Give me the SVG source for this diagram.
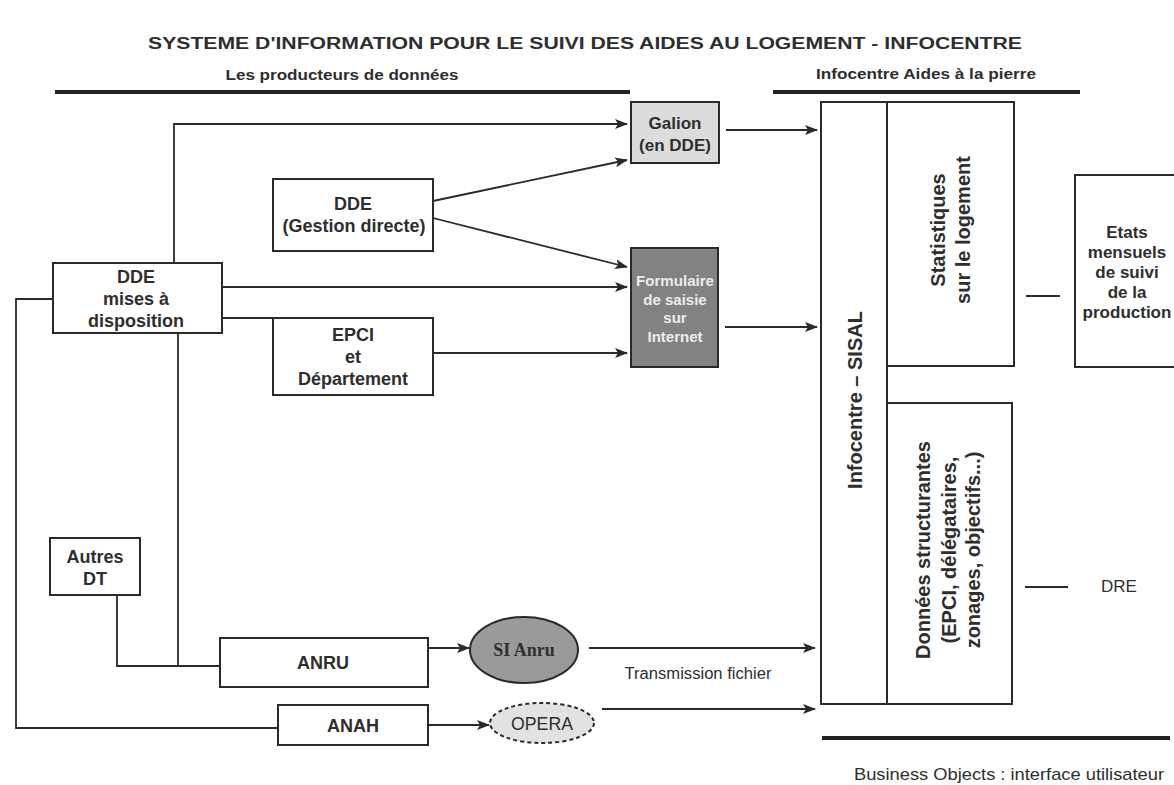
<svg xmlns="http://www.w3.org/2000/svg" width="1174" height="785" viewBox="0 0 1174 785">
<style>
text{font-family:"Liberation Sans",Arial,sans-serif;fill:#2e2e2e}
.b{font-weight:bold}
.t18{font-size:18px}
.t17{font-size:17px}
.r{font-size:20px;font-weight:bold}
.box{fill:#fff;stroke:#2a2a2a;stroke-width:2}
.ln{fill:none;stroke:#2a2a2a;stroke-width:1.8}
.arr{fill:none;stroke:#2a2a2a;stroke-width:1.8;marker-end:url(#ah)}
.hdr{stroke:#222;stroke-width:4}
.fw{fill:#ececec;font-weight:bold;font-size:15px}
</style>
<defs>
<marker id="ah" markerUnits="userSpaceOnUse" markerWidth="13" markerHeight="10" refX="12" refY="5" orient="auto">
<path d="M0,0 L13,5 L0,10 L3,5 z" fill="#2a2a2a"/>
</marker>
</defs>
<rect width="1174" height="785" fill="#fff"/>
<g id="title">
<text x="585" y="49" text-anchor="middle" class="b" font-size="16" textLength="874" lengthAdjust="spacingAndGlyphs">SYSTEME D'INFORMATION POUR LE SUIVI DES AIDES AU LOGEMENT - INFOCENTRE</text>
<text x="342" y="80" text-anchor="middle" class="b" font-size="15.5" textLength="233" lengthAdjust="spacingAndGlyphs">Les producteurs de données</text>
<text x="926" y="79" text-anchor="middle" class="b" font-size="15.5" textLength="220" lengthAdjust="spacingAndGlyphs">Infocentre Aides à la pierre</text>
<line class="hdr" x1="55" y1="92" x2="630" y2="92"/>
<line class="hdr" x1="773" y1="92" x2="1080" y2="92"/>
<line class="hdr" x1="822" y1="738" x2="1170" y2="738"/>
<text x="1009" y="780" text-anchor="middle" font-size="17" textLength="310" lengthAdjust="spacingAndGlyphs">Business Objects : interface utilisateur</text>
</g>
<g id="connectors">
<polyline class="arr" points="174,263 174,124 627,124"/>
<line class="arr" x1="433" y1="201" x2="627" y2="160"/>
<line class="arr" x1="433" y1="218" x2="627" y2="267"/>
<line class="arr" x1="222" y1="287" x2="627" y2="287"/>
<line class="ln" x1="222" y1="318" x2="273" y2="318"/>
<line class="arr" x1="433" y1="353" x2="627" y2="353"/>
<line class="arr" x1="726" y1="130" x2="817" y2="130"/>
<line class="arr" x1="725" y1="327" x2="817" y2="327"/>
<polyline class="ln" points="53,299 16,299 16,728 278,728"/>
<line class="ln" x1="178" y1="333" x2="178" y2="666"/>
<polyline class="ln" points="117,595 117,666 220,666"/>
<line class="arr" x1="428" y1="648" x2="469" y2="648"/>
<line class="arr" x1="589" y1="648" x2="815" y2="648"/>
<line class="arr" x1="428" y1="725" x2="489" y2="725"/>
<line class="arr" x1="602" y1="709" x2="815" y2="709"/>
<line class="ln" x1="1026" y1="296" x2="1060" y2="296" stroke-width="2.5"/>
<line class="ln" x1="1025" y1="587" x2="1068" y2="587" stroke-width="2.5"/>
</g>
<g id="galion">
<rect x="631" y="102" width="88" height="61" fill="#dcdcdc" stroke="#2a2a2a" stroke-width="2"/>
<text x="675" y="129" text-anchor="middle" class="b t17">Galion</text>
<text x="675" y="151" text-anchor="middle" class="b t17">(en DDE)</text>
</g>
<g id="formulaire">
<rect x="631" y="248" width="87" height="119" fill="#828282" stroke="#2a2a2a" stroke-width="2"/>
<text x="675" y="286" text-anchor="middle" class="fw" textLength="78" lengthAdjust="spacingAndGlyphs">Formulaire</text>
<text x="675" y="305" text-anchor="middle" class="fw">de saisie</text>
<text x="675" y="323" text-anchor="middle" class="fw">sur</text>
<text x="675" y="342" text-anchor="middle" class="fw">Internet</text>
</g>
<g id="dde-gestion">
<rect class="box" x="273" y="179" width="160" height="72"/>
<text x="353" y="210" text-anchor="middle" class="b t18">DDE</text>
<text x="354" y="232" text-anchor="middle" class="b t18">(Gestion directe)</text>
</g>
<g id="dde-mises">
<rect class="box" x="53" y="263" width="169" height="70"/>
<text x="136" y="283" text-anchor="middle" class="b t18">DDE</text>
<text x="136" y="305" text-anchor="middle" class="b t18">mises à</text>
<text x="136" y="327" text-anchor="middle" class="b t18">disposition</text>
</g>
<g id="epci">
<rect class="box" x="273" y="318" width="160" height="77"/>
<text x="353" y="341" text-anchor="middle" class="b t18">EPCI</text>
<text x="353" y="363" text-anchor="middle" class="b t18">et</text>
<text x="353" y="385" text-anchor="middle" class="b t18">Département</text>
</g>
<g id="autres-dt">
<rect class="box" x="50" y="538" width="90" height="57"/>
<text x="95" y="563" text-anchor="middle" class="b t18">Autres</text>
<text x="95" y="585" text-anchor="middle" class="b t18">DT</text>
</g>
<g id="anru">
<rect class="box" x="220" y="638" width="208" height="49"/>
<text x="323" y="669" text-anchor="middle" class="b t18">ANRU</text>
</g>
<g id="anah">
<rect class="box" x="278" y="705" width="150" height="40"/>
<text x="353" y="732" text-anchor="middle" class="b t18">ANAH</text>
</g>
<g id="si-anru">
<ellipse cx="524" cy="650" rx="54" ry="33" fill="#9a9a9a" stroke="#2a2a2a" stroke-width="2"/>
<text x="524" y="656" text-anchor="middle" style="font-family:'Liberation Serif',serif;font-weight:bold;font-size:18px">SI Anru</text>
</g>
<text x="698" y="679" text-anchor="middle" font-size="16" textLength="147" lengthAdjust="spacingAndGlyphs">Transmission fichier</text>
<g id="opera">
<ellipse cx="542" cy="723" rx="52" ry="20" fill="#e2e2e2" stroke="#2a2a2a" stroke-width="2" stroke-dasharray="4,3"/>
<text x="542" y="730" text-anchor="middle" font-size="19" textLength="62" lengthAdjust="spacingAndGlyphs">OPERA</text>
</g>
<g id="sisal">
<polyline fill="none" stroke="#2a2a2a" stroke-width="2" points="887,366 887,102 821,102 821,704 1012,704"/>
<line stroke="#2a2a2a" stroke-width="2" x1="887" y1="366" x2="887" y2="704"/>
<text transform="translate(862,400) rotate(-90)" text-anchor="middle" class="r">Infocentre – SISAL</text>
</g>
<g id="statistiques">
<rect class="box" x="887" y="102" width="127" height="264"/>
<text transform="translate(945,230) rotate(-90)" text-anchor="middle" class="r">Statistiques</text>
<text transform="translate(970,230) rotate(-90)" text-anchor="middle" class="r">sur le logement</text>
</g>
<g id="donnees">
<rect class="box" x="887" y="403" width="125" height="301"/>
<text transform="translate(930,550) rotate(-90)" text-anchor="middle" class="r">Données structurantes</text>
<text transform="translate(956,550) rotate(-90)" text-anchor="middle" class="r">(EPCI, délégataires,</text>
<text transform="translate(980,550) rotate(-90)" text-anchor="middle" class="r">zonages, objectifs...)</text>
</g>
<g id="etats">
<rect class="box" x="1075" y="175" width="110" height="192"/>
<text x="1127" y="238" text-anchor="middle" class="b t17">Etats</text>
<text x="1127" y="258" text-anchor="middle" class="b t17">mensuels</text>
<text x="1127" y="278" text-anchor="middle" class="b t17">de suivi</text>
<text x="1127" y="298" text-anchor="middle" class="b t17">de la</text>
<text x="1127" y="318" text-anchor="middle" class="b t17">production</text>
</g>
<g id="dre">
<text x="1119" y="592" text-anchor="middle" font-size="17">DRE</text>
</g>
</svg>
